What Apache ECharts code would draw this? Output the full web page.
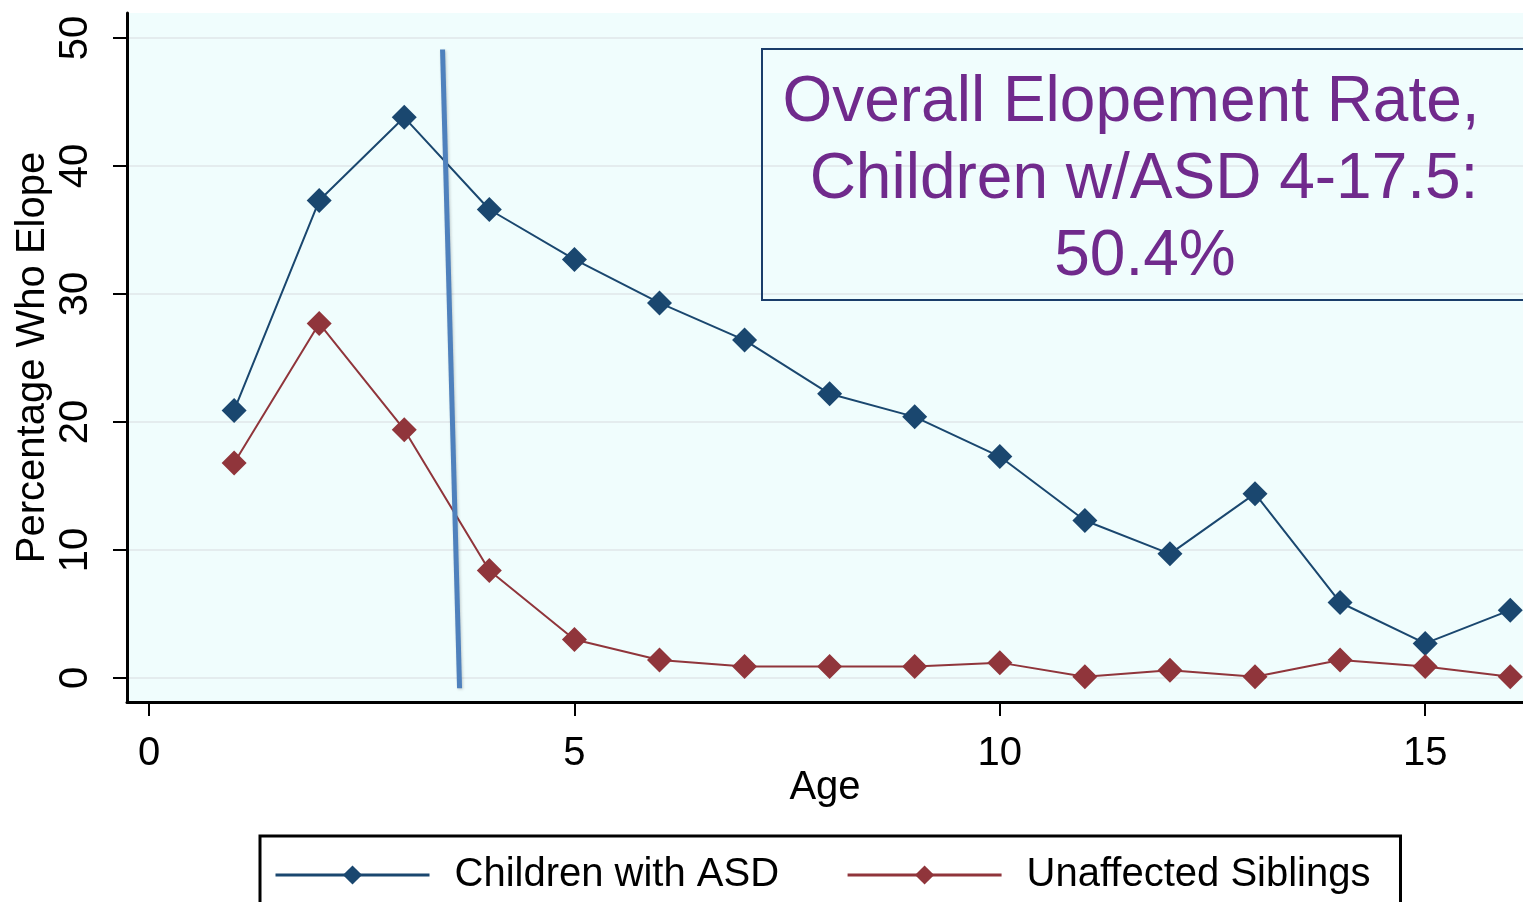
<!DOCTYPE html>
<html>
<head>
<meta charset="utf-8">
<style>
  html, body { margin: 0; padding: 0; background: #ffffff; }
  #chart { width: 1523px; height: 902px; }
</style>
<script src="https://cdn.jsdelivr.net/npm/echarts@6/dist/echarts.min.js"></script>
</head>
<body>
<div id="chart"></div>
<script>
const ages = [1, 2, 3, 4, 5, 6, 7, 8, 9, 10, 11, 12, 13, 14, 15, 16];
const asdRates = [20.9, 37.3, 43.8, 36.6, 32.7, 29.3, 26.4, 22.2, 20.4, 17.3, 12.3, 9.7, 14.4, 5.9, 2.7, 5.3];
const siblingRates = [16.8, 27.7, 19.4, 8.4, 3.0, 1.4, 0.9, 0.9, 0.9, 1.2, 0.1, 0.6, 0.1, 1.4, 0.9, 0.1];
const dividerLine = [[3.45, 49.1], [3.65, -0.8]];
const xTicks = [0, 5, 10, 15];
const yTicks = [0, 10, 20, 30, 40, 50];
const noteLines = ["Overall Elopement Rate,", "Children w/ASD 4-17.5:", "50.4%"];

const navy = "#1a476f";
const maroon = "#90353b";
const axisFont = "Liberation Sans, Arial, sans-serif";

// each note line sits at its own centre, like the original text box
const noteCentres = [1131, 1144, 1145];
const noteTops = [71, 148, 225];

const chart = echarts.init(document.getElementById("chart"), null, { renderer: "canvas" });

chart.setOption({
  animation: false,
  backgroundColor: "#ffffff",
  grid: {
    left: 127,
    right: 0,
    top: 13,
    bottom: 200,
    show: true,
    backgroundColor: "#f0fdfd",
    borderWidth: 0
  },
  xAxis: {
    type: "value",
    min: -0.259,
    max: 16.15,
    name: "Age",
    nameLocation: "middle",
    nameGap: 66,
    nameMoveOverlap: false,
    nameTextStyle: { color: "#000", fontFamily: axisFont, fontSize: 40 },
    axisLine: { onZero: false, lineStyle: { color: "#000", width: 3 } },
    axisTick: { customValues: xTicks, length: 14, lineStyle: { color: "#000", width: 2 } },
    axisLabel: { customValues: xTicks, margin: 32, color: "#000", fontFamily: axisFont, fontSize: 40 },
    splitLine: { show: false }
  },
  yAxis: {
    type: "value",
    min: -1.875,
    max: 51.95,
    name: "Percentage Who Elope",
    nameLocation: "middle",
    nameRotate: 90,
    nameGap: 74,
    nameMoveOverlap: false,
    nameTextStyle: { color: "#000", fontFamily: axisFont, fontSize: 40 },
    axisLine: { show: true, onZero: false, lineStyle: { color: "#000", width: 3 } },
    axisTick: { show: true, customValues: yTicks, length: 14, lineStyle: { color: "#000", width: 2 } },
    axisLabel: { customValues: yTicks, rotate: 90, margin: 31, color: "#000", fontFamily: axisFont, fontSize: 40 },
    splitLine: { show: true, lineStyle: { color: "#e4ecee", width: 2 } }
  },
  legend: {
    data: ["Children with ASD", "Unaffected Siblings"],
    left: 260,
    top: 836,
    orient: "horizontal",
    padding: [19, 30, 40, 14],
    borderColor: "#000",
    borderWidth: 3,
    itemWidth: 154,
    itemHeight: 24,
    itemGap: 67,
    lineStyle: { width: 3 },
    textStyle: { color: "#000", fontFamily: axisFont, fontSize: 40, padding: [0, 0, 0, 20] }
  },
  graphic: [
    {
      type: "rect",
      shape: { x: 762, y: 49, width: 800, height: 251 },
      style: { fill: "none", stroke: "#1a3d6a", lineWidth: 2 },
      z: 10
    }
  ].concat(noteLines.map((line, i) => ({
    type: "text",
    x: noteCentres[i],
    y: noteTops[i],
    style: {
      text: line,
      fill: "#702a8c",
      font: "64px Liberation Sans, Arial, sans-serif",
      align: "center",
      verticalAlign: "top"
    },
    z: 11
  }))),
  series: [
    {
      name: "Children with ASD",
      type: "line",
      data: ages.map((age, i) => [age, asdRates[i]]),
      color: navy,
      symbol: "diamond",
      symbolSize: 25,
      lineStyle: { width: 2, color: navy },
      itemStyle: { color: navy }
    },
    {
      name: "Unaffected Siblings",
      type: "line",
      data: ages.map((age, i) => [age, siblingRates[i]]),
      color: maroon,
      symbol: "diamond",
      symbolSize: 25,
      lineStyle: { width: 2, color: maroon },
      itemStyle: { color: maroon }
    },
    {
      name: "divider",
      type: "line",
      data: dividerLine,
      symbol: "none",
      silent: true,
      z: 5,
      lineStyle: {
        color: "#4f81bd",
        width: 5,
        shadowColor: "rgba(0, 0, 0, 0.2)",
        shadowBlur: 3,
        shadowOffsetX: 1,
        shadowOffsetY: 1
      }
    }
  ]
});
</script>
</body>
</html>
